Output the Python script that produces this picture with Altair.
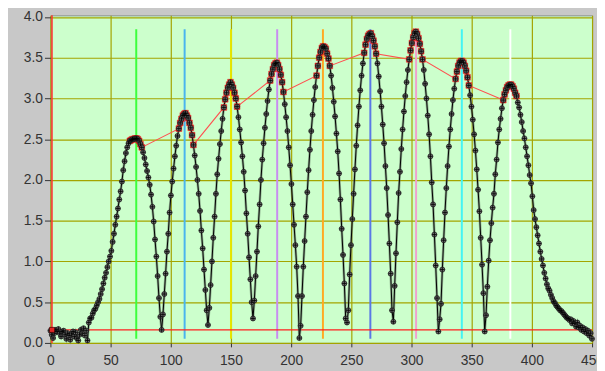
import altair as alt
import pandas as pd

# ---- measured curve (samples every 1.1 x-units) ----
seg_noise = [0.15, 0.10, 0.06, 0.12, 0.16, 0.14, 0.17, 0.12, 0.08, 0.14, 0.15, 0.10, 0.05, 0.12, 0.09,
             0.04, 0.11, 0.14, 0.08, 0.13, 0.06, 0.03, 0.10, 0.16, 0.12, 0.18, 0.09, 0.15, 0.03]
seg_p1 = [0.25, 0.30, 0.31, 0.36, 0.40, 0.42, 0.46, 0.50, 0.54, 0.60, 0.66, 0.73, 0.80, 0.86, 0.93,
          1.00, 1.06, 1.13, 1.24, 1.34, 1.45, 1.55, 1.65, 1.76, 1.86, 1.98, 2.12, 2.23, 2.33, 2.40,
          2.45, 2.48, 2.49, 2.50, 2.50, 2.51, 2.51, 2.50, 2.48, 2.44, 2.40, 2.34, 2.27, 2.19, 2.11,
          2.03, 1.94, 1.82, 1.67, 1.49, 1.27, 1.06, 0.82, 0.55, 0.32, 0.16]
seg_p2 = [0.35, 0.60, 0.85, 1.12, 1.34, 1.60, 1.81, 1.98, 2.14, 2.29, 2.42, 2.54, 2.63, 2.70, 2.75,
          2.79, 2.81, 2.82, 2.79, 2.76, 2.70, 2.64, 2.55, 2.43, 2.30, 2.16, 2.00, 1.83, 1.62, 1.38,
          1.16, 0.90, 0.65, 0.40, 0.22]
seg_p3 = [0.43, 0.71, 1.00, 1.29, 1.55, 1.83, 2.07, 2.26, 2.44, 2.60, 2.75, 2.89, 2.99, 3.07, 3.13,
          3.17, 3.20, 3.17, 3.13, 3.07, 3.00, 2.90, 2.77, 2.62, 2.46, 2.29, 2.10, 1.87, 1.59, 1.34,
          1.05, 0.78, 0.50, 0.30]
seg_p4 = [0.52, 0.82, 1.12, 1.43, 1.70, 2.00, 2.25, 2.45, 2.64, 2.81, 2.97, 3.11, 3.22, 3.30, 3.36,
          3.41, 3.43, 3.44, 3.41, 3.36, 3.29, 3.20, 3.08, 2.93, 2.77, 2.60, 2.40, 2.18, 1.95, 1.70,
          1.45, 1.20, 0.935, 0.575, 0.06]
seg_p5 = [0.21, 0.575, 0.935, 1.25, 1.55, 1.85, 2.12, 2.37, 2.60, 2.80, 2.98, 3.14, 3.28, 3.40, 3.50,
          3.57, 3.62, 3.64, 3.63, 3.61, 3.55, 3.49, 3.40, 3.28, 3.13, 2.96, 2.78, 2.57, 2.35, 2.08,
          1.76, 1.40, 1.08, 0.73, 0.30, 0.25]
seg_p6 = [0.40, 0.84, 1.20, 1.52, 1.83, 2.13, 2.42, 2.67, 2.90, 3.10, 3.28, 3.43, 3.56, 3.66, 3.73,
          3.77, 3.79, 3.80, 3.76, 3.71, 3.64, 3.55, 3.43, 3.27, 3.09, 2.90, 2.68, 2.45, 2.17, 1.90,
          1.57, 1.22, 0.85, 0.40, 0.26]
seg_p7 = [0.70, 1.10, 1.48, 1.84, 2.10, 2.38, 2.62, 2.84, 3.03, 3.20, 3.35, 3.48, 3.59, 3.68, 3.75,
          3.80, 3.82, 3.79, 3.74, 3.67, 3.58, 3.48, 3.35, 3.18, 3.00, 2.79, 2.56, 2.29, 1.97, 1.70,
          1.33, 0.95, 0.55, 0.14]
seg_p8 = [0.29, 0.48, 0.90, 1.26, 1.60, 1.90, 2.17, 2.41, 2.62, 2.81, 2.98, 3.12, 3.24, 3.33, 3.40,
          3.44, 3.46, 3.46, 3.44, 3.40, 3.34, 3.26, 3.16, 3.04, 2.90, 2.74, 2.56, 2.36, 2.13, 1.88,
          1.615, 1.29, 0.96, 0.61, 0.14]
seg_p9 = [0.34, 0.69, 1.01, 1.26, 1.47, 1.66, 1.83, 2.07, 2.25, 2.46, 2.62, 2.75, 2.88, 2.98, 3.05,
          3.10, 3.14, 3.16, 3.17, 3.17, 3.15, 3.12, 3.07, 3.03, 2.95, 2.89, 2.80, 2.71, 2.60, 2.51,
          2.40, 2.29, 2.18, 2.06, 1.96, 1.80, 1.63, 1.52, 1.42, 1.32, 1.22, 1.12, 1.03, 0.95, 0.86,
          0.79, 0.72, 0.67, 0.64, 0.59, 0.55, 0.51, 0.49, 0.46, 0.44, 0.42, 0.40, 0.39, 0.37, 0.35,
          0.33, 0.31, 0.30, 0.28, 0.29, 0.24, 0.27, 0.24, 0.20, 0.25, 0.19, 0.21, 0.16, 0.19, 0.14,
          0.17, 0.12, 0.15, 0.09, 0.12, 0.05]

# sample index ranges flagged as peak regions (red series)
red_ranges = [(60, 69), (97, 108), (131, 141), (166, 176), (201, 211),
              (237, 246), (271, 281), (306, 316), (342, 352)]

# peak cursors
peak_x = [71.3, 111.5, 150.0, 188.4, 226.4, 265.8, 303.8, 341.8, 382.1]
peak_colors = ["#3cff3c", "#4ab4ee", "#e6e600", "#c88cf0", "#ffaa22",
               "#5a78e6", "#f0a0cc", "#44f4f4", "#ffffff"]
cursor_top = 3.85
cursor_bottom = 0.05
threshold = 0.16
start_cursor_x = 1.3

x_ticks = list(range(0, 451, 25))
y_ticks = [0.0, 0.5, 1.0, 1.5, 2.0, 2.5, 3.0, 3.5, 4.0]

y_vals = (seg_noise + seg_p1 + seg_p2 + seg_p3 + seg_p4 + seg_p5 + seg_p6 + seg_p7 + seg_p8 + seg_p9)
assert len(y_vals) == 410, len(y_vals)
x_vals = [round(1.1 * i, 2) for i in range(len(y_vals))]
df = pd.DataFrame({"x": x_vals, "y": y_vals})

red_idx = [i for a, b in red_ranges for i in range(a, b + 1)]
df_red = df.iloc[red_idx].reset_index(drop=True)
df_red["o"] = range(len(df_red))

df_peaks = pd.DataFrame({"x": peak_x, "c": peak_colors,
                         "top": [cursor_top] * len(peak_x), "bot": [cursor_bottom] * len(peak_x)})

xs = alt.Scale(domain=[0, 450], nice=False, zero=False)
ys = alt.Scale(domain=[0, 4.02], nice=False, zero=True)

GRID = "#a4a400"
FONT = "Liberation Sans Narrow, Arial Narrow, Liberation Sans, Arial"

xaxis = alt.Axis(values=x_ticks, format="d", title=None, grid=True, gridColor=GRID, gridWidth=1.2,
                 gridOpacity=1, domain=False, tickSize=4, tickColor="#333", labelPadding=7,
                 labelFontSize=14, labelColor="#333", labelFont=FONT, labelFlush=False, labelOverlap=False)
yaxis = alt.Axis(values=y_ticks, format=".1f", title=None, grid=True, gridColor=GRID, gridWidth=1.2,
                 gridOpacity=1, domain=False, tickSize=6, tickColor="#333", labelPadding=2,
                 labelFontSize=14, labelColor="#333", labelFont=FONT, labelFlush=False, labelOverlap=False)

base = alt.Chart(df)

grid_layer = base.mark_line(opacity=0).encode(
    x=alt.X("x:Q", scale=xs, axis=xaxis),
    y=alt.Y("y:Q", scale=ys, axis=yaxis),
)

cursors = alt.Chart(df_peaks).mark_rule(strokeWidth=2).encode(
    x=alt.X("x:Q", scale=xs),
    y=alt.Y("top:Q", scale=ys),
    y2="bot:Q",
    color=alt.Color("c:N", scale=None),
)

start_cursor = alt.Chart(pd.DataFrame({"x": [start_cursor_x]})).mark_rule(
    color="#ff3030", strokeWidth=1.5).encode(x=alt.X("x:Q", scale=xs))

thr_line = alt.Chart(pd.DataFrame({"y": [threshold]})).mark_rule(
    color="#ff2020", strokeWidth=1.5).encode(y=alt.Y("y:Q", scale=ys))

thr_marker = alt.Chart(pd.DataFrame({"x": [start_cursor_x], "y": [threshold]})).mark_point(
    shape="square", filled=True, fill="#e02828", stroke="#400000", strokeWidth=0.7, size=26, opacity=1
).encode(x=alt.X("x:Q", scale=xs), y=alt.Y("y:Q", scale=ys))

halo = base.mark_line(color="#5f705f", strokeWidth=2.6, opacity=0.55).encode(
    x=alt.X("x:Q", scale=xs), y=alt.Y("y:Q", scale=ys), order="x:Q")
curve = base.mark_line(color="#000000", strokeWidth=1).encode(
    x=alt.X("x:Q", scale=xs), y=alt.Y("y:Q", scale=ys), order="x:Q")

red_line = alt.Chart(df_red).mark_line(color="#ff5050", strokeWidth=1.1).encode(
    x=alt.X("x:Q", scale=xs), y=alt.Y("y:Q", scale=ys), order="o:Q")
red_pts = alt.Chart(df_red).mark_point(shape="square", filled=True, fill="#e02020", stroke="#e02020",
                                       strokeWidth=0.5, size=34, opacity=1).encode(
    x=alt.X("x:Q", scale=xs), y=alt.Y("y:Q", scale=ys))

dots = base.mark_point(shape="circle", filled=True, fill="#6c6c6c", stroke="#111111",
                       strokeWidth=0.7, size=26, opacity=1).encode(
    x=alt.X("x:Q", scale=xs), y=alt.Y("y:Q", scale=ys))
crosses = base.mark_point(shape="M-1,0L1,0M0,-1L0,1", filled=False, stroke="#000000",
                          strokeWidth=0.8, size=22, opacity=1).encode(
    x=alt.X("x:Q", scale=xs), y=alt.Y("y:Q", scale=ys))

chart = alt.layer(grid_layer, cursors, start_cursor, thr_line, red_line, halo, curve, red_pts,
                  dots, crosses, thr_marker).properties(
    width=549, height=332,
    padding={"left": 43, "top": 5, "right": 5, "bottom": 26},
    autosize=alt.AutoSizeParams(type="none"),
    background="#c8c8c8",
).configure_view(fill="#ccffcc", stroke="#8a8a8a", strokeWidth=1)

chart.save("out.html", embed_options={"renderer": "svg", "actions": False})
